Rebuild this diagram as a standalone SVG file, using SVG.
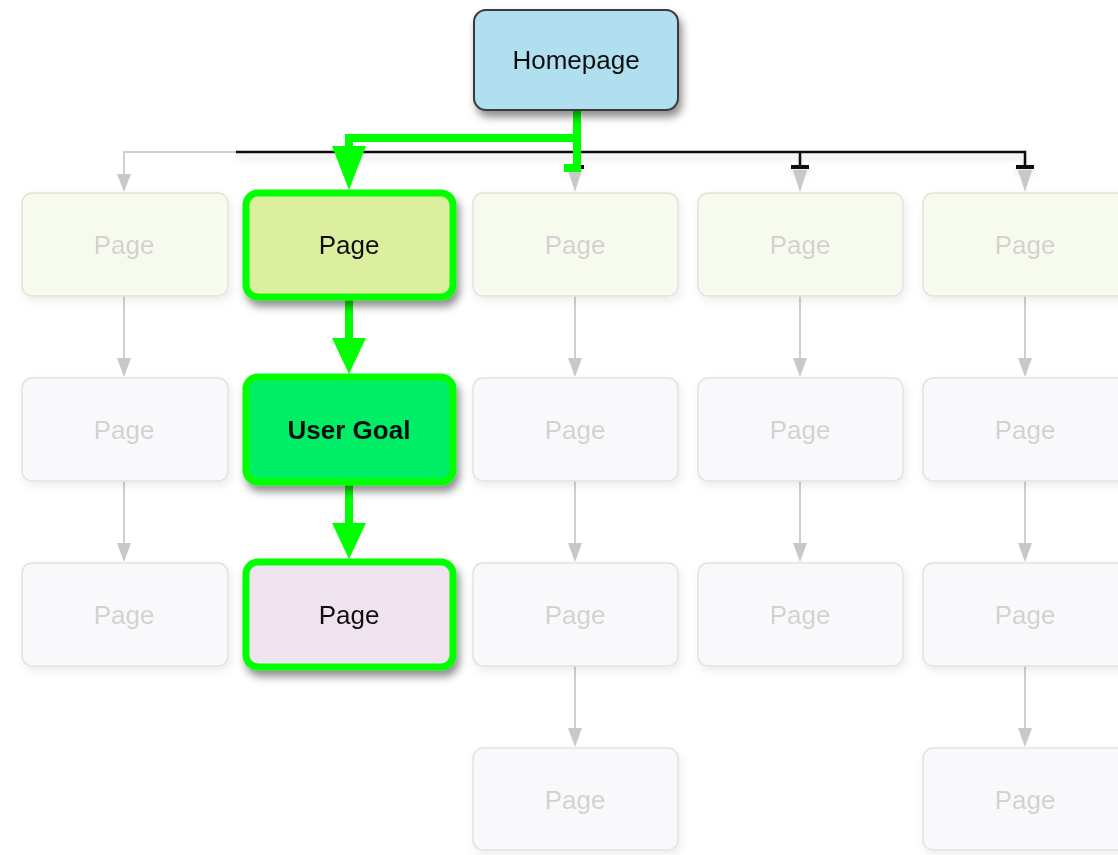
<svg xmlns="http://www.w3.org/2000/svg" width="1118" height="855" viewBox="0 0 1118 855">
<style>
.fb{fill:#f9f8fb;stroke:#e2e2e4;stroke-width:1.5}
.fg{fill:#f7fbee;stroke:#e2e4dc;stroke-width:1.5}
.ft{font-family:"Liberation Sans",Arial,sans-serif;font-size:26px;fill:#d2d2d2;text-anchor:middle}
.t{font-family:"Liberation Sans",Arial,sans-serif;font-size:26px;fill:#111;text-anchor:middle}
.gl{stroke:#cfcfcf;stroke-width:2;fill:none}
.ga{fill:#c8c8c8}
.gr{stroke:#00ff00;stroke-width:8;fill:none}
.gh{fill:#00ff00}
</style>
<defs>
<filter id="sh" x="-20%" y="-20%" width="150%" height="160%"><feDropShadow dx="3" dy="6" stdDeviation="4" flood-color="#000" flood-opacity="0.45"/></filter>
<filter id="sl" x="-20%" y="-20%" width="150%" height="160%"><feDropShadow dx="2" dy="4" stdDeviation="4" flood-color="#000" flood-opacity="0.08"/></filter>
<filter id="ls" x="-5%" y="-200%" width="110%" height="600%"><feDropShadow dx="0" dy="5" stdDeviation="3" flood-color="#000" flood-opacity="0.15"/></filter>
</defs>
<g id="connectors">
<path class="gl" d="M236 152 H124 V176"/>
<polygon class="ga" points="117,174 131,174 124,192"/>
<g filter="url(#ls)">
<path d="M236 152 H1025 V166" stroke="#111" stroke-width="2.5" fill="none"/>
<path d="M800 152 V166 M575 152 V166" stroke="#111" stroke-width="2.5" fill="none"/>
<rect x="566" y="165" width="18" height="4" fill="#111"/>
<rect x="791" y="165" width="18" height="4" fill="#111"/>
<rect x="1016" y="165" width="18" height="4" fill="#111"/>
</g>
<polygon class="ga" points="568,170 582,170 575,192"/>
<polygon class="ga" points="793,170 807,170 800,192"/>
<polygon class="ga" points="1018,170 1032,170 1025,192"/>
<path class="gr" d="M577 111 V168 H564" stroke-width="7"/>
<path class="gr" d="M577 138 H349 V152" stroke-width="7"/>
<polygon class="gh" points="332,146 366,146 349,190"/>
<g>
<path class="gl" d="M124 296 V362 M124 481 V547"/>
<polygon class="ga" points="117,358 131,358 124,377"/>
<polygon class="ga" points="117,543 131,543 124,562"/>
<path class="gl" d="M575 296 V362 M575 481 V547 M575 666 V732"/>
<polygon class="ga" points="568,358 582,358 575,377"/>
<polygon class="ga" points="568,543 582,543 575,562"/>
<polygon class="ga" points="568,728 582,728 575,747"/>
<path class="gl" d="M800 296 V362 M800 481 V547"/>
<polygon class="ga" points="793,358 807,358 800,377"/>
<polygon class="ga" points="793,543 807,543 800,562"/>
<path class="gl" d="M1025 296 V362 M1025 481 V547 M1025 666 V732"/>
<polygon class="ga" points="1018,358 1032,358 1025,377"/>
<polygon class="ga" points="1018,543 1032,543 1025,562"/>
<polygon class="ga" points="1018,728 1032,728 1025,747"/>
</g>
<path class="gr" d="M349 298 V342"/>
<polygon class="gh" points="332,338 366,338 349,374"/>
<path class="gr" d="M349 484 V527"/>
<polygon class="gh" points="332,523 366,523 349,559"/>
</g>
<g id="homepage" filter="url(#sh)">
<rect x="474" y="10" width="204" height="100" rx="12" fill="#b0e0f0" stroke="#3a3a3a" stroke-width="2"/>
<text class="t" x="576" y="69">Homepage</text>
</g>
<g id="p1a" filter="url(#sl)"><rect class="fg" x="22" y="193" width="206" height="103" rx="10"/><text class="ft" x="124" y="254">Page</text></g>
<g id="p1c" filter="url(#sl)"><rect class="fg" x="473" y="193" width="205" height="103" rx="10"/><text class="ft" x="575" y="254">Page</text></g>
<g id="p1d" filter="url(#sl)"><rect class="fg" x="698" y="193" width="205" height="103" rx="10"/><text class="ft" x="800" y="254">Page</text></g>
<g id="p1e" filter="url(#sl)"><rect class="fg" x="923" y="193" width="205" height="103" rx="10"/><text class="ft" x="1025" y="254">Page</text></g>
<g id="p2a" filter="url(#sl)"><rect class="fb" x="22" y="378" width="206" height="103" rx="10"/><text class="ft" x="124" y="439">Page</text></g>
<g id="p2c" filter="url(#sl)"><rect class="fb" x="473" y="378" width="205" height="103" rx="10"/><text class="ft" x="575" y="439">Page</text></g>
<g id="p2d" filter="url(#sl)"><rect class="fb" x="698" y="378" width="205" height="103" rx="10"/><text class="ft" x="800" y="439">Page</text></g>
<g id="p2e" filter="url(#sl)"><rect class="fb" x="923" y="378" width="205" height="103" rx="10"/><text class="ft" x="1025" y="439">Page</text></g>
<g id="p3a" filter="url(#sl)"><rect class="fb" x="22" y="563" width="206" height="103" rx="10"/><text class="ft" x="124" y="624">Page</text></g>
<g id="p3c" filter="url(#sl)"><rect class="fb" x="473" y="563" width="205" height="103" rx="10"/><text class="ft" x="575" y="624">Page</text></g>
<g id="p3d" filter="url(#sl)"><rect class="fb" x="698" y="563" width="205" height="103" rx="10"/><text class="ft" x="800" y="624">Page</text></g>
<g id="p3e" filter="url(#sl)"><rect class="fb" x="923" y="563" width="205" height="103" rx="10"/><text class="ft" x="1025" y="624">Page</text></g>
<g id="p4c" filter="url(#sl)"><rect class="fb" x="473" y="748" width="205" height="102" rx="10"/><text class="ft" x="575" y="809">Page</text></g>
<g id="p4e" filter="url(#sl)"><rect class="fb" x="923" y="748" width="205" height="102" rx="10"/><text class="ft" x="1025" y="809">Page</text></g>
<g id="page-green" filter="url(#sh)">
<rect x="246" y="193" width="207" height="104" rx="12" fill="#dcef9e" stroke="#00ff00" stroke-width="7"/>
<text class="t" x="349" y="254">Page</text>
</g>
<g id="user-goal" filter="url(#sh)">
<rect x="246" y="377" width="207" height="105" rx="12" fill="#00ee66" stroke="#00ff00" stroke-width="7"/>
<text class="t" x="349" y="439" font-weight="bold">User Goal</text>
</g>
<g id="page-purple" filter="url(#sh)">
<rect x="246" y="562" width="207" height="105" rx="12" fill="#efe3ef" stroke="#00ff00" stroke-width="7"/>
<text class="t" x="349" y="624">Page</text>
</g>
</svg>
